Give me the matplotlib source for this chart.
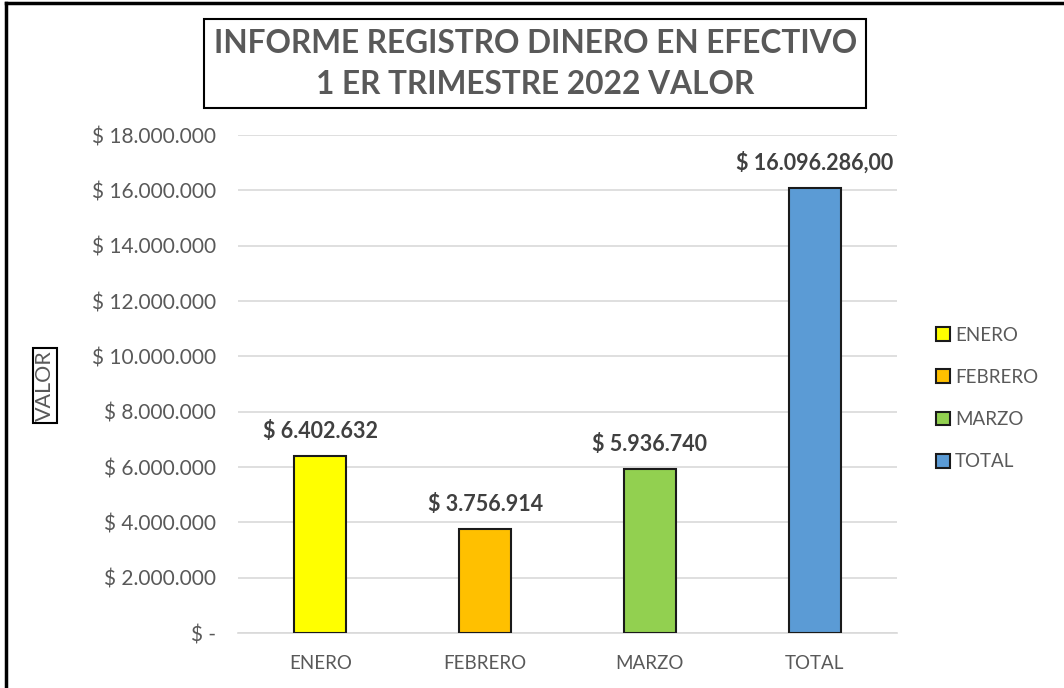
import matplotlib.pyplot as plt
from matplotlib.lines import Line2D
from matplotlib.patches import Patch
from matplotlib.ticker import FuncFormatter

meses = ['ENERO', 'FEBRERO', 'MARZO', 'TOTAL']
valores = [6402632, 3756914, 5936740, 16096286]
etiquetas = ['$ 6.402.632', '$ 3.756.914', '$ 5.936.740', '$ 16.096.286,00']
colores = ['#FFFF00', '#FFC000', '#92D050', '#5B9BD5']
yticks = [0, 2000000, 4000000, 6000000, 8000000, 10000000,
          12000000, 14000000, 16000000, 18000000]

gris = '#595959'
plt.rcParams['font.family'] = ['Lato', 'DejaVu Sans']

fig = plt.figure(figsize=(10.64, 6.88), dpi=100)
ax = fig.add_axes([0.2237, 0.0799, 0.6194, 0.7238])

x = list(range(len(meses)))
ax.bar(x, valores, width=0.315, color=colores, edgecolor='#1a1a1a',
       linewidth=1.5, zorder=3)

for xi, v, lab in zip(x, valores, etiquetas):
    ax.annotate(lab, (xi, v), xytext=(0, 10), textcoords='offset points',
                ha='center', va='bottom', fontsize=15.5, fontweight='bold',
                color='#404040')

ax.set_xlim(-0.5, 3.5)
ax.set_ylim(0, 18000000)
ax.set_yticks(yticks)


def fmt(v, pos):
    if v == 0:
        return '$ -'
    return '$ ' + f'{int(v):,}'.replace(',', '.')


ax.yaxis.set_major_formatter(FuncFormatter(fmt))
ax.set_xticks(x)
ax.set_xticklabels(meses)
ax.tick_params(axis='both', length=0, labelsize=15, colors=gris)
ax.tick_params(axis='y', pad=16)
ax.tick_params(axis='x', pad=16, labelsize=13.5)
ax.grid(axis='y', color='#d9d9d9', linewidth=1.2, zorder=0)
for s in ['top', 'right', 'left']:
    ax.spines[s].set_visible(False)
ax.spines['bottom'].set_color('#d9d9d9')
ax.spines['bottom'].set_linewidth(1.2)

# eje y titulo
fig.text(0.0423, 0.439, 'VALOR', rotation=90, ha='center', va='center',
         fontsize=15.5, color=gris,
         bbox=dict(boxstyle='square,pad=0.1', fc='white', ec='black', lw=1.5))

# titulo
fig.text(0.503, 0.907, 'INFORME REGISTRO DINERO EN EFECTIVO\n1 ER TRIMESTRE 2022 VALOR',
         ha='center', va='center', fontsize=22.8, fontweight='bold', color=gris,
         linespacing=1.5,
         bbox=dict(boxstyle='square,pad=0.3', fc='white', ec='black', lw=1.5))

handles = [Patch(facecolor=c, edgecolor='#1a1a1a', linewidth=1.5) for c in colores]
fig.legend(handles, meses, loc='center left', bbox_to_anchor=(0.864, 0.4208),
           frameon=False, fontsize=13.5, labelcolor=gris, handlelength=0.75,
           handleheight=0.75, handletextpad=0.25, labelspacing=1.35)

# marco exterior
fig.add_artist(Line2D([6 / 1064, 6 / 1064], [0, 1 - 3 / 688], color='black', lw=2.5))
fig.add_artist(Line2D([6 / 1064, 1], [1 - 3 / 688, 1 - 3 / 688], color='black', lw=2.5))

fig.savefig('out.png', dpi=100)
